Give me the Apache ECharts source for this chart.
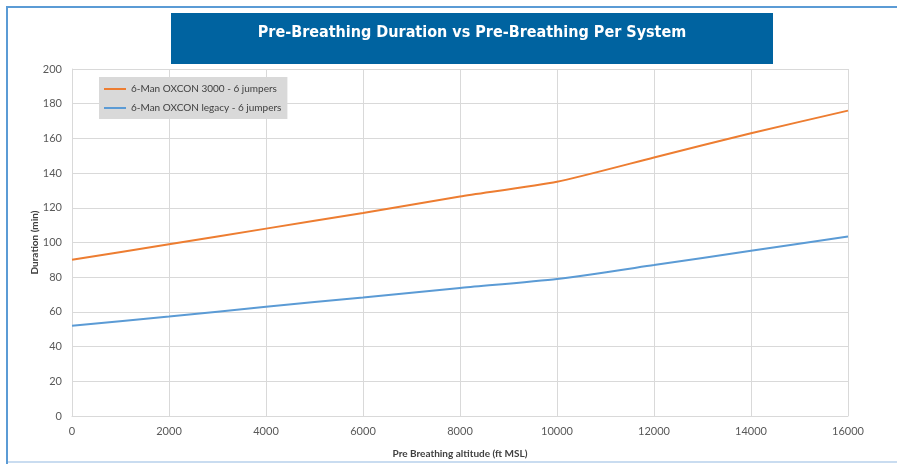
<!DOCTYPE html>
<html>
<head>
<meta charset="utf-8">
<script src="https://cdn.jsdelivr.net/npm/echarts@6/dist/echarts.min.js"></script>
<style>
html,body{margin:0;padding:0;background:#fff;}
#c{width:897px;height:464px;}
</style>
</head>
<body>
<div id="c"></div>
<script>
var altitudes = [0, 2000, 4000, 6000, 8000, 10000, 12000, 14000, 16000];
var oxcon3000 = [90, 99, 108, 117, 126.5, 135, 149, 163, 176];
var oxconLegacy = [52, 57.3, 63, 68.3, 73.8, 79, 87, 95.2, 103.4];
var seriesNames = ['6-Man OXCON 3000 - 6 jumpers', '6-Man OXCON legacy - 6 jumpers'];
var titleText = 'Pre-Breathing Duration vs Pre-Breathing Per System';

function pairs(xs, ys){ return xs.map(function(x,i){ return [x, ys[i]]; }); }

var F = 'Lato, "Open Sans", sans-serif';
var chart = echarts.init(document.getElementById('c'));
chart.setOption({
  animation: false,
  backgroundColor: '#fff',
  grid: {left: 72, right: 49, top: 69, bottom: 45, containLabel: false},
  xAxis: {
    type: 'value', min: 0, max: 16000, interval: 2000,
    name: 'Pre Breathing altitude (ft MSL)', nameLocation: 'middle', nameGap: 33,
    nameTextStyle: {fontFamily: F, fontWeight: 'bold', fontSize: 10, color: '#404040'},
    axisLine: {show: true, lineStyle: {color: '#d9d9d9', width: 1}},
    axisTick: {show: false},
    axisLabel: {fontFamily: F, fontSize: 11, color: '#595959', margin: 10, formatter: function(v){ return String(v); }},
    splitLine: {show: true, lineStyle: {color: '#d9d9d9', width: 1}}
  },
  yAxis: {
    type: 'value', min: 0, max: 200, interval: 20,
    name: 'Duration (min)', nameLocation: 'middle', nameGap: 32, nameRotate: 90,
    nameMoveOverlap: false,
    nameTextStyle: {fontFamily: F, fontWeight: 'bold', fontSize: 10, color: '#404040'},
    axisLine: {show: true, lineStyle: {color: '#d9d9d9', width: 1}},
    axisTick: {show: false},
    axisLabel: {fontFamily: F, fontSize: 11, color: '#595959', margin: 10},
    splitLine: {show: true, lineStyle: {color: '#d9d9d9', width: 1}}
  },
  legend: {
    left: 99, top: 77, orient: 'vertical', itemGap: 9,
    backgroundColor: '#d9d9d9', padding: [7, 6, 6, 5],
    itemWidth: 22, itemHeight: 2,
    icon: 'rect',
    textStyle: {fontFamily: F, fontSize: 10, color: '#404040'},
    data: seriesNames
  },
  series: [
    {name: seriesNames[0], type: 'line', data: pairs(altitudes, oxcon3000), smooth: 0.2, showSymbol: false,
     lineStyle: {color: '#ED7D31', width: 2}, itemStyle: {color: '#ED7D31'}},
    {name: seriesNames[1], type: 'line', data: pairs(altitudes, oxconLegacy), smooth: 0.2, showSymbol: false,
     lineStyle: {color: '#5B9BD5', width: 2}, itemStyle: {color: '#5B9BD5'}}
  ],
  graphic: [
    {type: 'rect', shape: {x: 6, y: 6, width: 891, height: 2}, style: {fill: '#5B9BD5'}, z: 100},
    {type: 'rect', shape: {x: 6, y: 6, width: 2, height: 458}, style: {fill: '#5B9BD5'}, z: 100},
    {type: 'rect', shape: {x: 8, y: 461, width: 889, height: 2}, style: {fill: '#C9DCF0'}, z: 100},
    {type: 'rect', shape: {x: 171, y: 13, width: 602, height: 51}, style: {fill: '#0063A0'}, z: 100},
    {type: 'text', x: 472, y: 33, z: 101,
     style: {text: titleText, fill: '#fff', font: 'bold 16px "DejaVu Sans Condensed", "DejaVu Sans", sans-serif', align: 'center', verticalAlign: 'middle'}}
  ]
});
</script>
</body>
</html>
